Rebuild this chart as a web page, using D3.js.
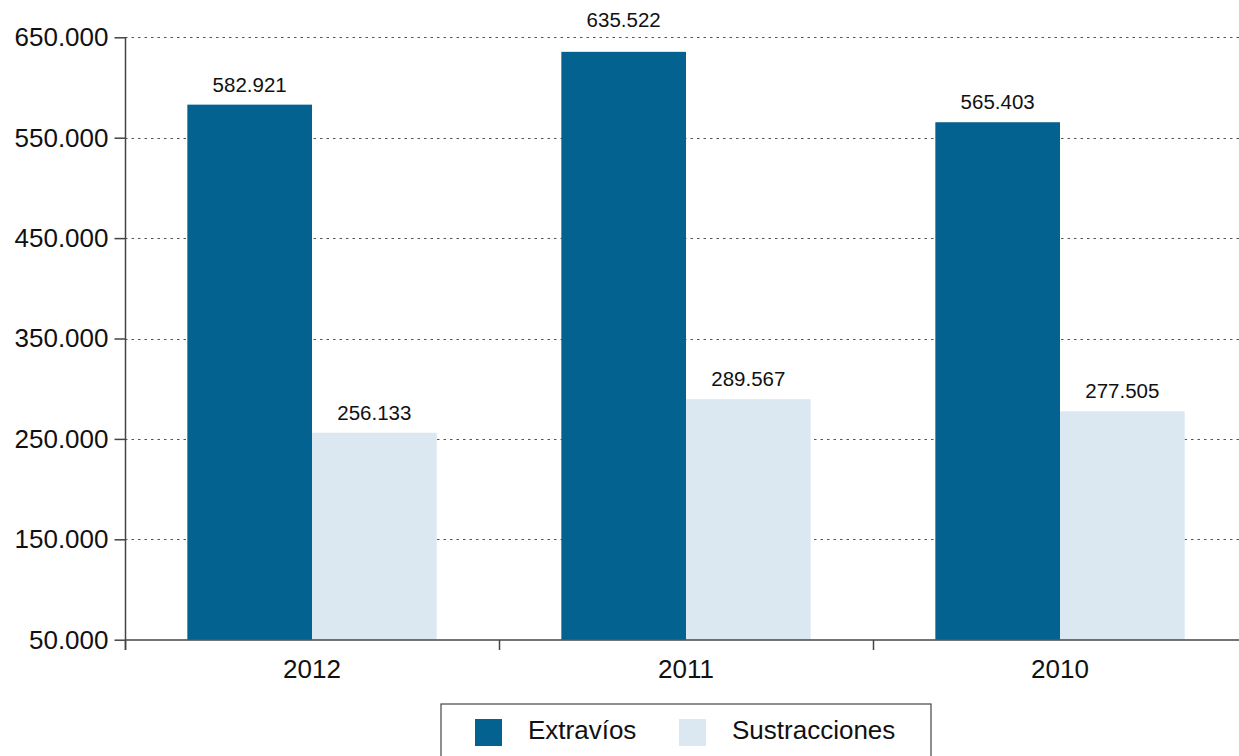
<!DOCTYPE html>
<html>
<head>
<meta charset="utf-8">
<script src="https://cdn.jsdelivr.net/npm/d3@7"></script>
<style>
  html, body { margin: 0; padding: 0; background: #fff; }
  svg { display: block; font-family: Helvetica, Arial, "Liberation Sans", sans-serif; }
</style>
</head>
<body>
<svg id="chart" width="1239" height="756"></svg>
<script>
const categories = ["2012", "2011", "2010"];
const seriesNames = ["Extravíos", "Sustracciones"];
const extravios = [582921, 635522, 565403];
const sustracciones = [256133, 289567, 277505];
const yTicks = [50000, 150000, 250000, 350000, 450000, 550000, 650000];
const colors = ["#03628F", "#DCE8F1"];

const svg = d3.select("#chart");
const fmt = v => d3.format(",")(v).replace(/,/g, ".");

const x0 = d3.scaleBand().domain(categories).range([125, 1247]).paddingInner(0).paddingOuter(0);
const x1 = d3.scaleBand().domain(seriesNames).range([0, x0.bandwidth()]).paddingInner(0).paddingOuter(0.5);
const y = d3.scaleLinear().domain([50000, 650000]).range([639.7, 37.3]);

// gridlines
svg.append("g").selectAll("line").data(yTicks.slice(1)).join("line")
  .attr("x1", 125).attr("x2", 1239)
  .attr("y1", d => Math.round(y(d)) + 0.5).attr("y2", d => Math.round(y(d)) + 0.5)
  .attr("stroke", "#555").attr("stroke-width", 1.2).attr("stroke-dasharray", "2.5,4");

const data = categories.map((c, i) => ({ cat: c, vals: [extravios[i], sustracciones[i]] }));

const groups = svg.append("g").selectAll("g").data(data).join("g")
  .attr("transform", d => `translate(${x0(d.cat)},0)`);

groups.selectAll("rect").data(d => d.vals.map((v, j) => ({ s: seriesNames[j], v, j }))).join("rect")
  .attr("x", d => x1(d.s)).attr("width", x1.bandwidth())
  .attr("y", d => y(d.v)).attr("height", d => y(50000) - y(d.v))
  .attr("fill", d => colors[d.j]);

// label placement: above bar; if it would collide with a gridline, lift above that gridline
function labelY(v) {
  let b = y(v) - 13;
  for (const t of yTicks) {
    const gy = y(t);
    if (gy >= b - 16 && gy <= b + 3) b = gy - 10;
  }
  return b;
}

groups.selectAll("text").data(d => d.vals.map((v, j) => ({ s: seriesNames[j], v, j }))).join("text")
  .attr("x", d => x1(d.s) + x1.bandwidth() / 2)
  .attr("y", d => labelY(d.v))
  .attr("text-anchor", "middle").attr("font-size", 20.5).attr("fill", "#111")
  .text(d => fmt(d.v));

// y axis
const yAxis = d3.axisLeft(y).tickValues(yTicks).tickSize(11).tickPadding(6).tickFormat(fmt);
const gy = svg.append("g").attr("transform", "translate(125.5,0)").call(yAxis);
gy.select(".domain").remove();
gy.selectAll(".tick line").attr("stroke", "#444").attr("stroke-width", 1.5);
gy.selectAll(".tick text").attr("font-size", 26).attr("fill", "#111").attr("font-family", "Helvetica, Arial, 'Liberation Sans', sans-serif");
gy.append("line").attr("x1", 0).attr("x2", 0).attr("y1", 37).attr("y2", 650).attr("stroke", "#444").attr("stroke-width", 1.5);

// x axis
const xAxis = d3.axisBottom(x0).tickSize(0).tickPadding(19.5).tickFormat(d => d);
const gx = svg.append("g").attr("transform", "translate(0,640)").call(xAxis);
gx.select(".domain").remove();
gx.selectAll(".tick text").attr("font-size", 26).attr("fill", "#111").attr("font-family", "Helvetica, Arial, 'Liberation Sans', sans-serif");
gx.append("line").attr("x1", 125).attr("x2", 1239).attr("y1", 0).attr("y2", 0).attr("stroke", "#444").attr("stroke-width", 1.5);
gx.selectAll("line.sep").data(categories).join("line").attr("class", "sep")
  .attr("x1", d => x0(d) + 0.5).attr("x2", d => x0(d) + 0.5)
  .attr("y1", 0).attr("y2", 10).attr("stroke", "#444").attr("stroke-width", 1.5);

// legend
const lg = svg.append("g");
lg.append("rect").attr("x", 441).attr("y", 704).attr("width", 490).attr("height", 70)
  .attr("fill", "#fff").attr("stroke", "#444").attr("stroke-width", 1.2);
const legX = [475, 679];
seriesNames.forEach((s, i) => {
  lg.append("rect").attr("x", legX[i]).attr("y", 719).attr("width", 27).attr("height", 27).attr("fill", colors[i]);
  lg.append("text").attr("x", legX[i] + 53).attr("y", 739).attr("font-size", 26).attr("fill", "#111").text(s);
});
</script>
</body>
</html>
